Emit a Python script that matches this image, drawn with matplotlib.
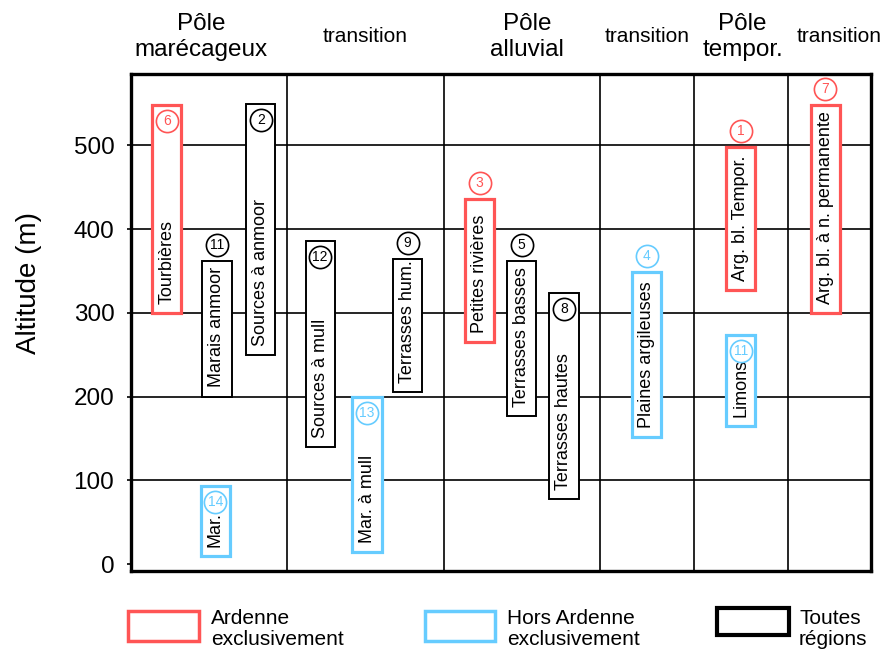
import matplotlib
matplotlib.use('Agg')
import matplotlib.pyplot as plt
from matplotlib.patches import Rectangle
from matplotlib.transforms import blended_transform_factory

plt.rcParams['font.family'] = ['Liberation Sans', 'DejaVu Sans']

# Données
noms = ['Tourbières', 'Sources à anmoor', 'Marais anmoor', 'Mar.',
        'Sources à mull', 'Mar. à mull', 'Terrasses hum.', 'Petites rivières',
        'Terrasses basses', 'Terrasses hautes', 'Plaines argileuses',
        'Arg. bl. Tempor.', 'Limons', 'Arg. bl. à n. permanente']
numeros = [6, 2, 11, 14, 12, 13, 9, 3, 5, 8, 4, 1, 11, 7]
groupes = ['A', 'T', 'T', 'H', 'T', 'H', 'T', 'A', 'T', 'T', 'H', 'A', 'H', 'A']
position = [1.15, 4.15, 2.75, 2.7, 6.05, 7.55, 8.85, 11.15, 12.5, 13.85,
            16.5, 19.5, 19.5, 22.2]
alt_min = [300, 250, 200, 10, 140, 15, 205, 265, 177, 78, 152, 327, 165, 300]
alt_max = [548, 549, 362, 94, 386, 200, 364, 436, 362, 324, 349, 498, 273, 548]

colonnes = [0, 5, 10, 15, 18, 21, 23.67]
entetes = ['Pôle\nmarécageux', 'transition', 'Pôle\nalluvial', 'transition',
           'Pôle\ntempor.', 'transition']
legende = ['Ardenne\nexclusivement', 'Hors Ardenne\nexclusivement',
           'Toutes\nrégions']

# styles
couleurs = {'A': '#FF5555', 'H': '#66CCFF', 'T': 'black'}
epaisseurs = {'A': 2.3, 'H': 2.3, 'T': 1.4}
pastille_dedans = [True, True, False, True, True, True, False, False, False,
                   True, False, False, True, False]
decal_entete = [-8, 0, 5, 0, 2, 10]  # en pixels

fig = plt.figure(figsize=(8.91, 6.52), dpi=100)
ax = fig.add_axes([131 / 891, 1 - 571 / 652, 740 / 891, 497 / 652])

ax.set_xlim(colonnes[0], colonnes[-1])
ax.set_ylim(-8, 585)
ppu = 497 / 593  # pixels par metre

# grille
for y in [100, 200, 300, 400, 500]:
    ax.axhline(y, color='black', lw=1.2, zorder=1)
for x in colonnes[1:-1]:
    ax.axvline(x, color='black', lw=1.2, zorder=1)

# boites
for i in range(len(noms)):
    g = groupes[i]
    c = couleurs[g]
    ax.bar(position[i], alt_max[i] - alt_min[i], bottom=alt_min[i], width=0.93,
           facecolor='white', edgecolor=c, linewidth=epaisseurs[g], zorder=3)
    ax.text(position[i], alt_min[i] + 11, noms[i], rotation=90, ha='center',
            va='bottom', fontsize=13, color='black', zorder=5)
    if pastille_dedans[i]:
        yc = alt_max[i] - 16 / ppu
    else:
        yc = alt_max[i] + 16 / ppu
    ax.plot(position[i], yc, marker='o', markersize=16, markerfacecolor='white',
            markeredgecolor=c, markeredgewidth=1.2, zorder=6)
    ax.text(position[i], yc, str(numeros[i]), ha='center', va='center',
            fontsize=10, color=c, zorder=7)

# axes
ax.set_xticks([])
ax.set_yticks([0, 100, 200, 300, 400, 500])
ax.tick_params(axis='y', labelsize=17.5, length=3, width=1.2, pad=9)
for s in ax.spines.values():
    s.set_linewidth(2.4)
ax.set_ylabel('Altitude (m)', fontsize=20, va='center')
ax.yaxis.set_label_coords(-0.138, 0.58)

# entetes de colonnes
trans = blended_transform_factory(ax.transData, fig.transFigure)
for k, txt in enumerate(entetes):
    xc = (colonnes[k] + colonnes[k + 1]) / 2 + decal_entete[k] / 31.26
    fs = 17.5 if txt.startswith('Pôle') else 15
    ax.text(xc, 1 - 37 / 652, txt, transform=trans, ha='center', va='center',
            fontsize=fs, linespacing=1.25)

# legende
rects = [(128, 611, 71, 30, '#FF5555', 2.5), (425, 611, 70, 30, '#66CCFF', 2.5),
         (717, 608, 72, 27, 'black', 3.0)]
textes_x = [211, 507, 799]
for (x0, y0, w, h, c, lw), tx, txt in zip(rects, textes_x, legende):
    fig.patches.append(Rectangle((x0 / 891, 1 - (y0 + h) / 652), w / 891, h / 652,
                                 transform=fig.transFigure, facecolor='white',
                                 edgecolor=c, linewidth=lw))
    fig.text(tx / 891, 1 - 629 / 652, txt, ha='left', va='center',
             fontsize=15, linespacing=1.1)

fig.savefig('out.png', dpi=100)
